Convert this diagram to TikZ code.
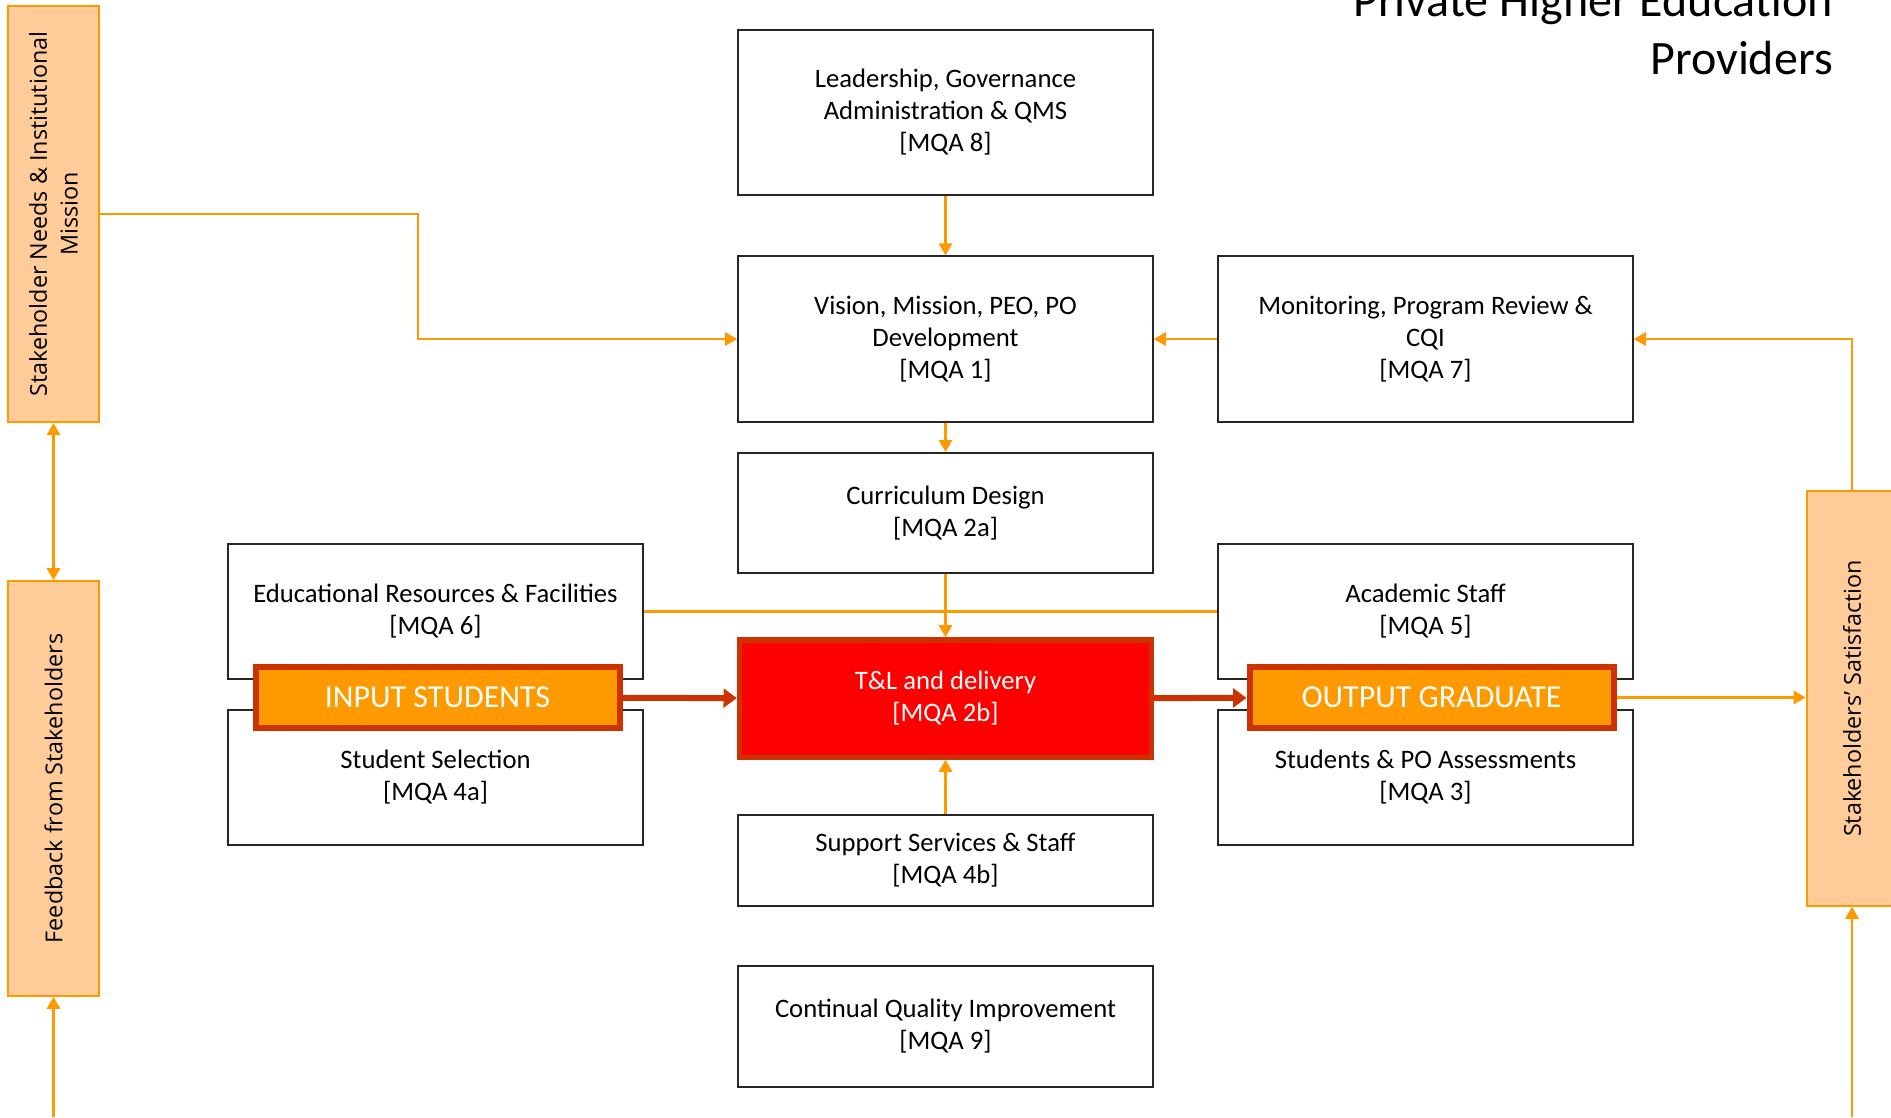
\documentclass[tikz,border=0pt]{standalone}
\usepackage{fontspec}
\setmainfont{Carlito}
\newfontfamily\sidefont{Open Sans}
\usetikzlibrary{arrows.meta}
\definecolor{lineor}{HTML}{FF9900}
\definecolor{peach}{HTML}{FFCC99}
\definecolor{rust}{HTML}{CC3300}
\tikzset{
  box/.style={draw=black!85, line width=1.5pt, fill=white, minimum width=311pt, align=center,
    font=\fontsize{20}{24}\selectfont, inner sep=0pt},
  sidebox/.style={draw=lineor, line width=1.5pt, fill=peach, minimum width=68pt, minimum height=312pt, inner sep=0pt},
  sidetext/.style={rotate=90, align=center, font=\sidefont\fontsize{17.5}{23}\selectfont},
  flowbox/.style={draw=rust, line width=4.5pt, fill=lineor, text=white, minimum width=273pt, minimum height=46pt,
    font=\fontsize{24}{28}\selectfont, inner sep=0pt},
  conn/.style={draw=lineor, line width=1.6pt, -{Triangle[width=10pt,length=9pt]}},
  plain/.style={draw=lineor, line width=1.6pt},
  thick arrow/.style={draw=rust, line width=4.5pt, -{Triangle[width=14pt,length=10pt]}},
}
\begin{document}
\begin{tikzpicture}[x=0.75pt,y=-0.75pt]
\useasboundingbox (0,0) rectangle (1891,1117);
% title
\node[anchor=base east, align=right, font=\fontsize{36}{43.5}\selectfont, inner sep=0pt] (title) at (1833,74)
  {Private Higher Education\\Providers};
% boxes
\node[box, minimum height=124pt] (lead) at (945.5,112.5) {Leadership, Governance\\Administration \& QMS\\{[MQA 8]}};
\node[box, minimum height=124pt] (vis) at (945.5,339) {Vision, Mission, PEO, PO\\Development\\{[MQA 1]}};
\node[box, minimum height=124pt] (mon) at (1425.5,339) {Monitoring, Program Review \&\\CQI\\{[MQA 7]}};
\node[box, minimum height=90pt] (cur) at (945.5,513) {Curriculum Design\\{[MQA 2a]}};
\node[box, minimum height=101pt] (edu) at (435.5,611.5) {Educational Resources \& Facilities\\{[MQA 6]}};
\node[box, minimum height=101pt] (aca) at (1425.5,611.5) {Academic Staff\\{[MQA 5]}};
\node[box, minimum height=101pt] (sel) at (435.5,777.5) {Student Selection\\{[MQA 4a]}};
\node[box, minimum height=101pt] (ass) at (1425.5,777.5) {Students \& PO Assessments\\{[MQA 3]}};
\node[box, minimum height=68pt] (sup) at (945.5,860.5) {Support Services \& Staff\\{[MQA 4b]}};
\node[box, minimum height=91pt] (cqi) at (945.5,1026.5) {Continual Quality Improvement\\{[MQA 9]}};
\node[box, draw=rust, line width=4pt, fill=red, text=white, minimum width=309pt, minimum height=88pt] (tl) at (945.5,698.5)
  {T\&L and delivery\\{[MQA 2b]}};
\node[flowbox] (inp) at (437.5,697.5) {INPUT STUDENTS};
\node[flowbox] (out) at (1431.5,697.5) {OUTPUT GRADUATE};
% side boxes
\node[sidebox] (sn) at (53.5,214) {};
\node[sidetext] (snt) at (sn.center) {Stakeholder Needs \& Institutional\\Mission};
\node[sidebox, minimum height=311pt] (fb) at (53.5,788.5) {};
\node[sidetext] (fbt) at (fb.center) {Feedback from Stakeholders};
\node[sidebox, minimum height=311pt] (sat) at (1852,698.5) {};
\node[sidetext] (satt) at (sat.center) {Stakeholders’ Satisfaction};
% free ends
\coordinate (fbin) at (53.5,1117);
\coordinate (satin) at (1852,1117);
% connectors
\draw[conn] (lead) -- (vis);
\draw[conn] (vis) -- (cur);
\draw[conn] (mon) -- (vis);
\draw[conn] (sn.east) -| (418,276) |- (vis.west);
\draw[plain, {Triangle[width=10pt,length=9pt]}-{Triangle[width=10pt,length=9pt]}] (sn) -- (fb);
\draw[conn] (fbin) -- (fb);
\draw[conn] (satin) -- (sat);
\draw[conn] (sat.north) |- (mon.east);
\draw[conn] (out.east) -- (sat.west |- out.east);
\draw[plain] (edu.east) -- (aca.west);
\draw[conn] (cur) -- (tl);
\draw[conn] (sup) -- (tl);
\draw[thick arrow] (inp) -- (tl);
\draw[thick arrow] (tl) -- (out);
\end{tikzpicture}
\end{document}
